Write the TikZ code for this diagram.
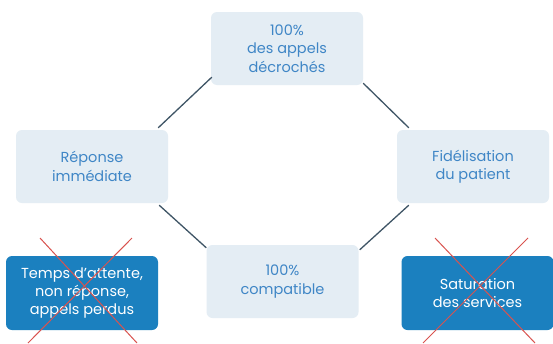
\documentclass[tikz,border=0pt]{standalone}
\usepackage{fontspec}
\setmainfont{Poppins}
\usetikzlibrary{calc}
\definecolor{lightbox}{HTML}{E4EDF4}
\definecolor{lighttext}{HTML}{3F86C6}
\definecolor{darkbox}{HTML}{1B80BF}
\definecolor{linkcol}{HTML}{3F5566}
\definecolor{crosscol}{HTML}{D9534F}
\tikzset{
  lbox/.style={fill=lightbox, rounded corners=6pt, minimum width=152pt, minimum height=73pt,
    align=center, text=lighttext, font=\fontsize{14.5}{18.5}\selectfont, inner sep=0pt},
  dbox/.style={fill=darkbox, rounded corners=6pt, minimum width=152pt, minimum height=74pt,
    align=center, text=white, font=\fontsize{14.5}{18}\selectfont, inner sep=0pt},
  link/.style={draw=linkcol, line width=1.3pt},
  cross/.style={draw=crosscol, line width=1pt}
}
\begin{document}
\begin{tikzpicture}[x=1pt,y=-1pt]
\useasboundingbox[fill=white] (0,0) rectangle (553,343);
\node[lbox] (top) at (287,48.5) {100\%\\des appels\\décrochés};
\node[lbox] (left) at (92,166.5) {Réponse\\immédiate};
\node[lbox] (right) at (473,166.5) {Fidélisation\\du patient};
\node[lbox] (bottom) at (282.5,281.5) {100\%\\compatible};
\node[dbox] (dl) at (82,293) {Temps d'attente,\\non réponse,\\appels perdus};
\node[dbox] (dr) at (477.5,293) {Saturation\\des services};
\draw[link] ($(top.south west)+(1,-8)$) -- ($(left.north east)+(-10,-2)$);
\draw[link] ($(top.south east)+(0,-2)$) -- ($(right.north west)+(12,-2)$);
\draw[link] ($(left.south east)+(-9,2)$) -- ($(bottom.north west)+(0,3)$);
\draw[link] ($(right.south west)+(12,2)$) -- ($(bottom.north east)+(1,5)$);
\begin{scope}
\clip (0,0) rectangle (553,343);
\draw[cross] (40,238) -- (137,343);
\draw[cross] (132,238) -- (28,343);
\draw[cross] (435,238) -- (535,343);
\draw[cross] (528,238) -- (423,343);
\end{scope}
\end{tikzpicture}
\end{document}
